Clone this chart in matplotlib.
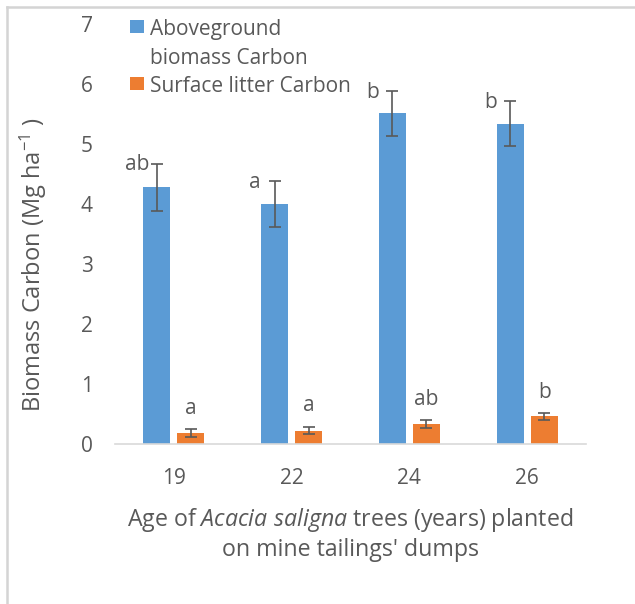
import matplotlib
matplotlib.use("Agg")
import matplotlib.pyplot as plt
import numpy as np
from matplotlib.patches import Rectangle
from matplotlib.lines import Line2D

plt.rcParams['font.family'] = ['Open Sans', 'DejaVu Sans']
plt.rcParams['mathtext.fontset'] = 'custom'
plt.rcParams['mathtext.rm'] = 'Open Sans'
plt.rcParams['mathtext.it'] = 'Open Sans:italic'

categories = ['19', '22', '24', '26']
above = [4.28, 4.00, 5.51, 5.34]
above_err = [0.39, 0.38, 0.375, 0.375]
litter = [0.18, 0.225, 0.33, 0.46]
litter_err = [0.065, 0.065, 0.065, 0.055]
above_letters = ['ab', 'a', 'b', 'b']
litter_letters = ['a', 'a', 'ab', 'b']
series_names = ['Aboveground\nbiomass Carbon', 'Surface litter Carbon']

blue = '#5b9bd5'
orange = '#ed7d31'
gray = '#595959'

fig = plt.figure(figsize=(6.35, 6.04), dpi=100)
# frame remnants (top and left edges)
fig.add_artist(Line2D([7/635, 1], [1 - 7/604, 1 - 7/604], transform=fig.transFigure,
                      color='#d4d4d4', lw=1.8))
fig.add_artist(Line2D([7/635, 7/635], [0, 1 - 7/604], transform=fig.transFigure,
                      color='#d4d4d4', lw=1.8))

ax = fig.add_axes([115/635, 1 - 444/604, 471/635, 420/604])

x = np.arange(len(categories))
w = 0.23
off = 0.145
ekw = dict(ecolor=gray, elinewidth=1.2, capthick=1.2)
ax.bar(x - off, above, w, color=blue, yerr=above_err, capsize=4.5, error_kw=ekw, zorder=2)
ax.bar(x + off, litter, w, color=orange, yerr=litter_err, capsize=4.5, error_kw=ekw, zorder=2)

for i in range(len(categories)):
    ax.text(x[i] - off - 0.165, above[i] + above_err[i] - 0.02, above_letters[i], ha='center',
            va='center', fontsize=15, color=gray)
    ax.text(x[i] + off, litter[i] + litter_err[i] + 0.35, litter_letters[i], ha='center',
            va='center', fontsize=15, color=gray)

ax.set_xlim(-0.5, 3.5)
ax.set_ylim(0, 7)
ax.set_xticks(x)
ax.set_xticklabels(categories)
ax.set_yticks(range(0, 8))
for s in ['top', 'right', 'left']:
    ax.spines[s].set_visible(False)
ax.spines['bottom'].set_color('#d9d9d9')
ax.spines['bottom'].set_linewidth(1.2)
ax.tick_params(axis='both', length=0, labelsize=15, colors=gray)
ax.tick_params(axis='x', pad=17)
ax.tick_params(axis='y', pad=16)

ax.set_ylabel('Biomass Carbon (Mg ha$^{-1}$ )', fontsize=17, color=gray)
ax.yaxis.set_label_coords((33 - 115) / 471, (444 - 265) / 420)
ax.yaxis.label.set_va('center')

ax.set_xlabel('Age of $\\mathit{Acacia\\ saligna}$ trees (years) planted\non mine tailings\' dumps',
              fontsize=16.7, color=gray, linespacing=1.2)
ax.xaxis.set_label_coords((350 - 115) / 471, (444 - 534) / 420)
ax.xaxis.label.set_va('center')

# legend (upper left, inside the plot area)
def px(xp, yp):
    return ((xp - 115) / 471, (444 - yp) / 420)

for (sx, sy), col in zip([px(130, 33), px(130, 90)], [blue, orange]):
    ax.add_patch(Rectangle((sx, sy), 14 / 471, 13 / 420, transform=ax.transAxes,
                           facecolor=col, edgecolor='none', clip_on=False))
tx, ty = px(150, 29)
ax.text(tx, ty, series_names[0].split('\n')[0], transform=ax.transAxes, fontsize=15,
        color=gray, va='center', ha='left')
tx, ty = px(150, 59)
ax.text(tx, ty, series_names[0].split('\n')[1], transform=ax.transAxes, fontsize=15,
        color=gray, va='center', ha='left')
tx, ty = px(150, 86)
ax.text(tx, ty, series_names[1], transform=ax.transAxes, fontsize=15,
        color=gray, va='center', ha='left')

fig.savefig('out.png', dpi=100)
